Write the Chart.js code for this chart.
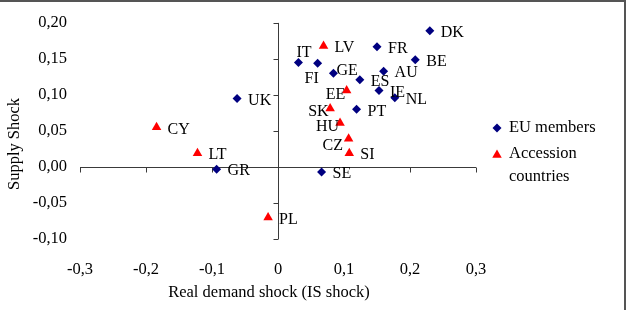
<!DOCTYPE html>
<html>
<head>
<meta charset="utf-8">
<script src="https://cdn.jsdelivr.net/npm/chart.js@4.4.4/dist/chart.umd.min.js"></script>
<style>
  html, body { margin: 0; padding: 0; background: #fff; }
  #wrap { position: relative; width: 628px; height: 310px; }
</style>
</head>
<body>
<div id="wrap"><canvas id="shocks"></canvas></div>
<script>
// EU members: real demand shock (x) vs supply shock (y)
const euCountries = ['DK', 'FR', 'IT', 'FI', 'BE', 'GE', 'AU', 'ES', 'IE', 'NL', 'PT', 'UK', 'GR', 'SE'];
const euDemand = [0.230, 0.150, 0.031, 0.060, 0.208, 0.084, 0.160, 0.124, 0.153, 0.177, 0.119, -0.062, -0.093, 0.066];
const euSupply = [0.189, 0.167, 0.145, 0.144, 0.149, 0.130, 0.133, 0.121, 0.106, 0.096, 0.080, 0.095, -0.003, -0.007];

// Accession countries
const accCountries = ['LV', 'EE', 'SK', 'HU', 'CZ', 'SI', 'CY', 'LT', 'PL'];
const accDemand = [0.069, 0.104, 0.079, 0.094, 0.107, 0.108, -0.184, -0.122, -0.015];
const accSupply = [0.168, 0.106, 0.081, 0.061, 0.039, 0.019, 0.055, 0.019, -0.070];

const xTickLabels = ['-0,3', '-0,2', '-0,1', '0', '0,1', '0,2', '0,3'];
const yTickLabels = ['-0,10', '-0,05', '0,00', '0,05', '0,10', '0,15', '0,20'];

const FONT = '"Liberation Serif", "Times New Roman", serif';
const NAVY = '#000080';
const RED = '#ff0000';

// label placement next to marker: [dx to text start, dy to text middle]
const labelOffset = { IT: [-2, -10], FI: [-13, 16], GE: [3, -3], EE: [-21, 4], SK: [-22, 3], HU: [-24, 4], CZ: [-26, 7] };
const defaultOffset = [11, 2];

function toPoints(xs, ys) {
  return xs.map((v, i) => ({ x: v, y: ys[i] }));
}

const excelLook = {
  id: 'excelLook',
  beforeDatasetsDraw(chart) {
    // axes cross at zero like the spreadsheet chart, labels stay on the edges
    const { ctx, chartArea: a, scales: { x, y } } = chart;
    const y0 = Math.round(y.getPixelForValue(0)) + 0.5;
    const x0 = Math.round(x.getPixelForValue(0)) + 0.5;
    ctx.save();
    ctx.strokeStyle = '#3a3a3a';
    ctx.lineWidth = 1;
    ctx.beginPath();
    ctx.moveTo(a.left, y0);
    ctx.lineTo(a.right, y0);
    x.ticks.forEach((t) => {
      const px = Math.round(x.getPixelForValue(t.value)) + 0.5;
      ctx.moveTo(px, y0);
      ctx.lineTo(px, y0 + 5);
    });
    ctx.moveTo(x0, a.top);
    ctx.lineTo(x0, a.bottom);
    y.ticks.forEach((t) => {
      const py = Math.round(y.getPixelForValue(t.value)) + 0.5;
      ctx.moveTo(x0 - 5, py);
      ctx.lineTo(x0, py);
    });
    ctx.stroke();
    ctx.restore();
  },
  afterDraw(chart) {
    const { ctx, chartArea: a } = chart;
    ctx.save();
    ctx.fillStyle = '#000';
    ctx.textBaseline = 'middle';
    ctx.textAlign = 'left';

    // country labels
    ctx.font = '16px ' + FONT;
    [euCountries, accCountries].forEach((names, di) => {
      chart.getDatasetMeta(di).data.forEach((el, i) => {
        const off = labelOffset[names[i]] || defaultOffset;
        ctx.fillText(names[i], el.x + off[0], el.y + off[1]);
      });
    });

    // axis titles
    ctx.font = '16.5px ' + FONT;
    ctx.textAlign = 'center';
    ctx.fillText('Real demand shock (IS shock)', (a.left + a.right) / 2 - 9, 293);
    ctx.save();
    ctx.translate(15, (a.top + a.bottom) / 2 + 13);
    ctx.rotate(-Math.PI / 2);
    ctx.fillText('Supply Shock', 0, 0);
    ctx.restore();

    // legend
    const lx = a.right + 21;
    ctx.textAlign = 'left';
    ctx.fillStyle = NAVY;
    Chart.helpers.drawPoint(ctx, { pointStyle: 'rectRot', radius: 4.5, rotation: 0, borderWidth: 0 }, lx, 128);
    ctx.fillStyle = RED;
    Chart.helpers.drawPoint(ctx, { pointStyle: 'triangle', radius: 5.5, rotation: 0, borderWidth: 0 }, lx, 155);
    ctx.fillStyle = '#000';
    ctx.fillText('EU members', lx + 12, 128);
    ctx.fillText('Accession', lx + 12, 154);
    ctx.fillText('countries', lx + 12, 177);

    // frame (top and right edges visible)
    ctx.fillStyle = '#555';
    ctx.fillRect(0, 0, 626, 2);
    ctx.fillRect(624, 0, 2, chart.height);
    ctx.restore();
  }
};

new Chart(document.getElementById('shocks'), {
  type: 'scatter',
  data: {
    datasets: [
      {
        label: 'EU members',
        data: toPoints(euDemand, euSupply),
        pointStyle: 'rectRot',
        pointRadius: 4.5,
        backgroundColor: NAVY,
        borderWidth: 0
      },
      {
        label: 'Accession countries',
        data: toPoints(accDemand, accSupply),
        pointStyle: 'triangle',
        pointRadius: 5.5,
        backgroundColor: RED,
        borderWidth: 0
      }
    ]
  },
  options: {
    responsive: true,
    maintainAspectRatio: false,
    animation: false,
    events: [],
    layout: { padding: { top: 19, right: 152, left: 0, bottom: 0 } },
    plugins: { legend: { display: false }, tooltip: { enabled: false } },
    scales: {
      x: {
        type: 'linear',
        min: -0.3,
        max: 0.3,
        grid: { display: false, drawTicks: false },
        border: { display: false },
        ticks: {
          stepSize: 0.1,
          padding: 21,
          maxRotation: 0,
          color: '#000',
          font: { family: FONT, size: 16.5 },
          callback: (v, i) => xTickLabels[i]
        },
        afterFit(s) { s.height = 71; }
      },
      y: {
        type: 'linear',
        min: -0.1,
        max: 0.2,
        grid: { display: false, drawTicks: false },
        border: { display: false },
        ticks: {
          stepSize: 0.05,
          padding: 13,
          color: '#000',
          font: { family: FONT, size: 16.5 },
          callback: (v, i) => yTickLabels[i]
        },
        afterFit(s) { s.width = 80; }
      }
    }
  },
  plugins: [excelLook]
});
</script>
</body>
</html>
